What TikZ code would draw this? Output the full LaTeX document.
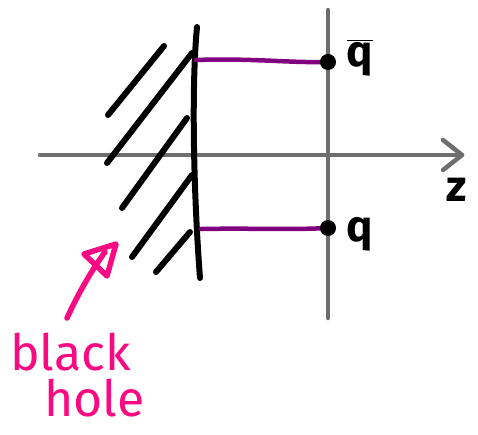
\documentclass[tikz,border=0pt]{standalone}
\usepackage{fontspec}
\setmainfont{Fira Sans}
\definecolor{axisgray}{RGB}{110,110,110}
\definecolor{hmag}{RGB}{250,10,130}
\definecolor{strpurple}{RGB}{128,0,128}
\begin{document}
\begin{tikzpicture}[x=1pt,y=-1pt,
  axisline/.style={draw=axisgray,line width=4.5pt,line cap=round,line join=round},
  hatchline/.style={draw=black,line width=6pt,line cap=round},
  stringline/.style={draw=strpurple,line width=4.5pt,line cap=round},
  quark/.style={circle,fill=black,inner sep=0pt,minimum size=16pt},
  handlabel/.style={inner sep=0pt,font=\fontsize{44}{46}\selectfont\bfseries},
  bhlabel/.style={inner sep=0pt,text=hmag,font=\fontsize{50}{50}\selectfont\mdseries},
  bharrow/.style={draw=hmag,line width=5.5pt,line cap=round,line join=round}
]
\useasboundingbox (0,0) rectangle (478,434);
% axes
\coordinate (xl) at (40,155);
\coordinate (xr) at (462,155);
\coordinate (yt) at (328,10);
\coordinate (yb) at (328,318);
\draw[axisline] (xl) -- (xr);
\draw[axisline] (443,140) -- (xr) -- (443,170);
\draw[axisline] (yt) -- (yb);
% hatch lines
\draw[hatchline] (108,115) -- (164,46);
\draw[hatchline] (107,163) -- (192,53);
\draw[hatchline] (122,208) -- (187,118);
\draw[hatchline] (132,257) -- (192,175);
\draw[hatchline] (156,272) -- (190,232);
% wall
\draw[hatchline] (197,27) .. controls (191,90) and (194,200) .. (200,278);
% strings
\coordinate (wt) at (196,60);
\coordinate (wb) at (201,229);
\coordinate (qbc) at (328,62);
\coordinate (qc) at (328,228);
\draw[stringline] (wt) .. controls (250,58) and (290,63) .. (qbc);
\draw[stringline] (wb) .. controls (250,228) and (290,230) .. (qc);
% quarks
\node[quark] (qb) at (qbc) {};
\node[quark] (q) at (qc) {};
% labels
\node[handlabel] (qbl) at (360,58) {$\overline{\mbox{q}}$};
\node[handlabel] (ql) at (360,234) {q};
\node[handlabel] (zl) at (457,190) {z};
% black hole
\node[bhlabel,anchor=base west] (bh1) at (10,370) {black};
\node[bhlabel,anchor=base west] (bh2) at (44,416) {hole};
\coordinate (at) at (116,244);
\draw[bharrow] (67,318) .. controls (80,290) and (92,270) .. (105,252);
\draw[bharrow] (84,254) -- (at) -- (107,276) -- cycle;
\end{tikzpicture}
\end{document}
